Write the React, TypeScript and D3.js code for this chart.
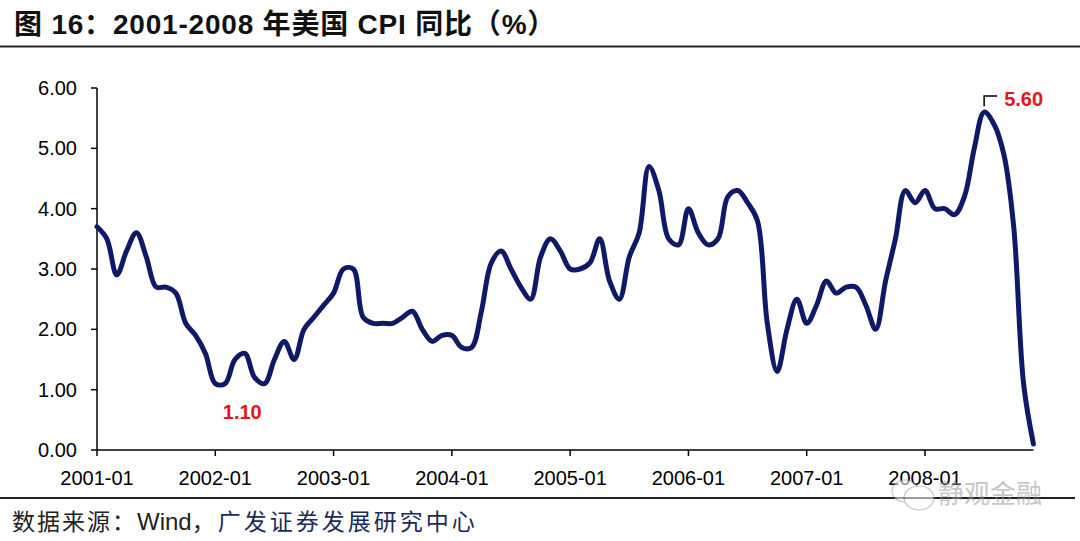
import React from "react";
import * as d3 from "d3";

const years = [2001, 2002, 2003, 2004, 2005, 2006, 2007, 2008];
const cpi2001 = [3.7, 3.5, 2.9, 3.3, 3.6, 3.2, 2.7, 2.7, 2.6, 2.1, 1.9, 1.6];
const cpi2002 = [1.1, 1.1, 1.5, 1.6, 1.2, 1.1, 1.5, 1.8, 1.5, 2.0, 2.2, 2.4];
const cpi2003 = [2.6, 3.0, 3.0, 2.2, 2.1, 2.1, 2.1, 2.2, 2.3, 2.0, 1.8, 1.9];
const cpi2004 = [1.9, 1.7, 1.7, 2.3, 3.1, 3.3, 3.0, 2.7, 2.5, 3.2, 3.5, 3.3];
const cpi2005 = [3.0, 3.0, 3.1, 3.5, 2.8, 2.5, 3.2, 3.6, 4.7, 4.3, 3.5, 3.4];
const cpi2006 = [4.0, 3.6, 3.4, 3.5, 4.2, 4.3, 4.1, 3.8, 2.1, 1.3, 2.0, 2.5];
const cpi2007 = [2.1, 2.4, 2.8, 2.6, 2.7, 2.7, 2.4, 2.0, 2.8, 3.5, 4.3, 4.1];
const cpi2008 = [4.3, 4.0, 4.0, 3.9, 4.2, 5.0, 5.6, 5.4, 4.9, 3.7, 1.1, 0.1];
const yTicks = [0, 1, 2, 3, 4, 5, 6];
const xTickLabels = years.map((y) => `${y}-01`);

const values = [
  ...cpi2001, ...cpi2002, ...cpi2003, ...cpi2004,
  ...cpi2005, ...cpi2006, ...cpi2007, ...cpi2008,
];

const minIdx = 12; // 2002-01, 1.10
const maxIdx = values.indexOf(d3.max(values) as number);

export default function App() {
  const W = 1080, H = 541;
  const x = d3.scaleLinear().domain([0, 84]).range([97, 925]);
  const y = d3.scaleLinear().domain([0, 6]).range([450, 88]);
  const xEnd = x(values.length - 1);
  const line = d3
    .line<number>()
    .x((_, i) => x(i))
    .y((d) => y(d))
    .curve(d3.curveCatmullRom.alpha(0.5));

  const font = "Arial, 'Liberation Sans', sans-serif";
  const cjk = "'Noto Sans CJK SC', sans-serif";
  const px = x(maxIdx), py = y(values[maxIdx]);

  return (
    <svg width={W} height={H} style={{ position: "absolute", left: 0, top: 0, background: "#fff" }}>
      <rect width={W} height={H} fill="#fff" />
      <text x={14} y={34} fontFamily={`Arial, 'Noto Sans CJK SC', sans-serif`} fontWeight="bold" fontSize={28} letterSpacing={0.8} fill="#111">
        图 16：2001-2008 年美国 CPI 同比（%）
      </text>
      <line x1={0} x2={1080} y1={46.5} y2={46.5} stroke="#222" strokeWidth={2} />

      {/* y axis */}
      <line x1={97} x2={97} y1={88} y2={450} stroke="#000" strokeWidth={1.5} />
      {yTicks.map((t) => (
        <g key={t}>
          <line x1={91} x2={97} y1={y(t)} y2={y(t)} stroke="#000" strokeWidth={1.5} />
          <text x={77} y={y(t) + 7} textAnchor="end" fontFamily={font} fontSize={20} fill="#000">
            {t.toFixed(2)}
          </text>
        </g>
      ))}

      {/* x axis */}
      <line x1={97} x2={xEnd} y1={450} y2={450} stroke="#000" strokeWidth={1.5} />
      {years.map((yr, i) => (
        <g key={yr}>
          <line x1={x(i * 12)} x2={x(i * 12)} y1={450} y2={456} stroke="#000" strokeWidth={1.5} />
          <text x={x(i * 12)} y={485} textAnchor="middle" fontFamily={font} fontSize={20} fill="#000">
            {xTickLabels[i]}
          </text>
        </g>
      ))}

      <path d={line(values) || ""} fill="none" stroke="#0f1a66" strokeWidth={5} strokeLinejoin="round" strokeLinecap="round" />

      {/* annotations */}
      <text x={x(minIdx) + 27} y={419} textAnchor="middle" fontFamily={font} fontWeight="bold" fontSize={20} fill="#e8141c">
        {values[minIdx].toFixed(2)}
      </text>
      <path d={`M${px},${py - 6} V${96} H${px + 13}`} fill="none" stroke="#000" strokeWidth={1.5} />
      <text x={px + 20} y={106} fontFamily={font} fontWeight="bold" fontSize={20} fill="#e8141c">
        {values[maxIdx].toFixed(2)}
      </text>

      {/* footer */}
      <line x1={0} x2={1075} y1={498} y2={498} stroke="#222" strokeWidth={2} />
      <text x={12} y={530} fontFamily={cjk} fontSize={23} fill="#222">
        <tspan letterSpacing={2}>数据来源：</tspan>
        <tspan fontFamily={font} fontSize={24}>Wind</tspan>
        <tspan letterSpacing={3}>，</tspan>
        <tspan fill="#1a2a5a" letterSpacing={3}>广发证券发展研究中心</tspan>
      </text>
      <g opacity={0.55}>
        <ellipse cx={905} cy={491} rx={13} ry={11} fill="#fff" stroke="#999" strokeWidth={1.2} />
        <ellipse cx={919} cy={498} rx={15} ry={12} fill="#fff" stroke="#999" strokeWidth={1.2} />
        <text x={938} y={503} fontFamily={cjk} fontSize={26} fill="#999">
          静观金融
        </text>
      </g>
    </svg>
  );
}
